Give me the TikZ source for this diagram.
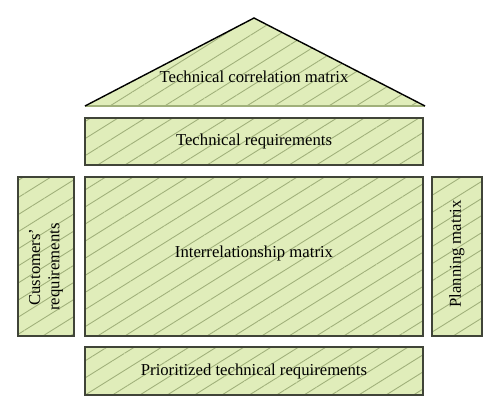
\documentclass[tikz,border=0pt]{standalone}
\usepackage{fontspec}
\setmainfont{Liberation Serif}
\usetikzlibrary{positioning,patterns.meta}
\definecolor{qfdfill}{RGB}{224,237,186}
\definecolor{qfdhatch}{RGB}{160,176,122}
\definecolor{qfdline}{RGB}{64,68,56}
\begin{document}
\begin{tikzpicture}[x=0.02cm, y=-0.02cm,
	hatched/.style={preaction={fill=qfdfill},
		pattern={Lines[angle=32,distance=2.9mm,line width=0.5pt]},
		pattern color=qfdhatch},
	part/.style={hatched,draw=qfdline,line width=0.8pt,inner sep=0pt,
		outer sep=0pt,font=\fontsize{9.5}{11}\selectfont,align=center}]
	\useasboundingbox (0,0) rectangle (500,414);
	% roof
	\coordinate (roofL) at (85,106);
	\coordinate (roofR) at (425,106);
	\coordinate (roofT) at (254,18);
	\fill[hatched] (roofL) -- (roofT) -- (roofR) -- cycle;
	\draw[qfdhatch,line width=0.6pt] (roofL) -- (roofR);
	\draw[black,line width=0.8pt] (roofL) -- (roofT) -- (roofR);
	\node[font=\fontsize{9.5}{11}\selectfont] (corr) at (254,77) {Technical correlation matrix};
	% rooms
	\node[part,minimum width=6.76cm,minimum height=0.94cm] (techreq) at (254,141.5) {Technical requirements};
	\node[part,minimum width=6.76cm,minimum height=3.18cm] (inter) at (254,256.5) {};
	\node[font=\fontsize{9.5}{11}\selectfont] (intertxt) at (254,253) {Interrelationship matrix};
	\node[part,minimum width=1.12cm,minimum height=3.18cm] (cust) at (46,256.5) {};
	\node[rotate=90,align=center,font=\fontsize{9.5}{11}\selectfont] (custtxt) at (46,267) {Customers’\\requirements};
	\node[part,minimum width=1cm,minimum height=3.18cm] (plan) at (457,256.5) {};
	\node[rotate=90,font=\fontsize{9.5}{11}\selectfont] (plantxt) at (457,254) {Planning matrix};
	\node[part,minimum width=6.76cm,minimum height=0.96cm] (prior) at (254,371) {Prioritized technical requirements};
\end{tikzpicture}
\end{document}
